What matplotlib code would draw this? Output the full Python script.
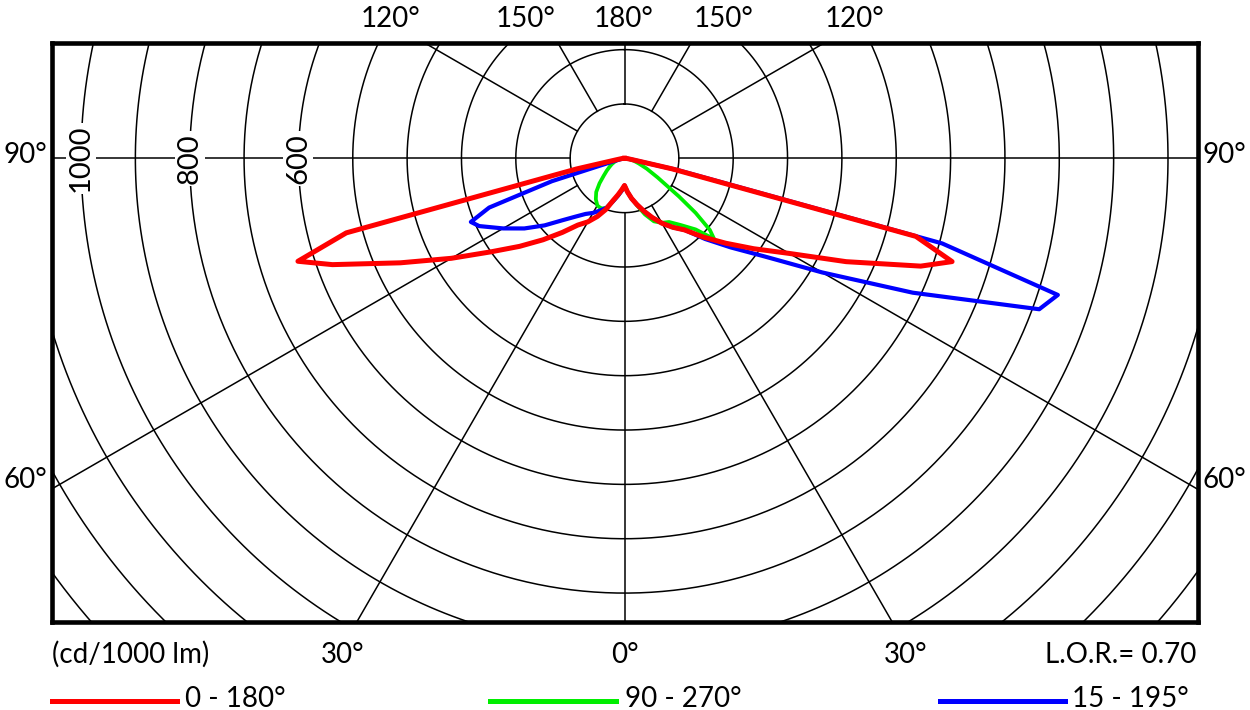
import numpy as np
import matplotlib.pyplot as plt
from matplotlib.lines import Line2D

plt.rcParams['font.family'] = ['Lato', 'DejaVu Sans']

# luminous intensity (cd/1000 lm), angle measured from nadir
# right half = positive angles, left half = negative angles
red_ang = [0, 5, 10, 15, 20, 25, 30, 35, 40, 45, 50, 55, 60, 65, 70, 72.5, 75, 77.5, 80, 85, 90]
red_right = [50, 62, 75, 88, 103, 120, 138, 155, 172, 205, 243, 290, 350, 450, 580, 632, 555, 90, 15, 5, 0]
red_left = [50, 58, 68, 80, 100, 118, 135, 150, 178, 212, 252, 300, 368, 455, 572, 630, 530, 90, 15, 5, 0]

green_ang_r = [0, 5, 10, 15, 20, 25, 30, 35, 40, 45, 48, 50, 52.5, 55, 60, 65, 70, 75, 80, 90]
green_right = [52, 62, 75, 90, 110, 128, 137, 143, 160, 185, 222, 205, 165, 122, 70, 45, 28, 18, 10, 0]
green_ang_l = [0, 5, 10, 15, 20, 25, 30, 35, 40, 45, 50, 55, 60, 65, 70, 75, 80, 90]
green_left = [52, 60, 70, 82, 97, 102, 100, 92, 81, 65, 50, 40, 32, 26, 20, 15, 10, 0]

blue_ang_r = [0, 5, 10, 15, 20, 25, 30, 35, 40, 45, 50, 55, 60, 65, 70, 72.5, 75, 77.5, 80, 85, 90]
blue_right = [50, 62, 75, 88, 103, 120, 138, 155, 172, 210, 255, 315, 420, 585, 812, 836, 605, 100, 15, 5, 0]
blue_ang_l = [0, 5, 10, 15, 20, 25, 30, 35, 40, 45, 50, 55, 60, 65, 67.5, 70, 72.5, 75, 80, 90]
blue_left = [50, 60, 70, 82, 97, 106, 116, 125, 140, 161, 192, 225, 258, 295, 306, 265, 140, 20, 3, 0]

rings = list(range(100, 1600, 100))
spokes = list(range(-150, 181, 30))
ring_labels = [600, 800, 1000]


def curve(ang_l, val_l, ang_r, val_r):
    a = np.radians(np.concatenate([-np.array(ang_l[::-1]), np.array(ang_r)]))
    v = np.concatenate([np.array(val_l[::-1]), np.array(val_r)])
    return v * np.sin(a), -v * np.cos(a)


W, H = 1250, 710
fig = plt.figure(figsize=(12.5, 7.1), dpi=100)
ax = fig.add_axes([51.5 / W, 1 - 622 / H, (1198 - 51.5) / W, (622 - 42.5) / H])
ax.set_xlim(-1054.3, 1055.2)
ax.set_ylim(-853.2, 213.1)

# polar grid
t = np.linspace(0, 2 * np.pi, 721)
for r in rings:
    ax.plot(r * np.sin(t), r * np.cos(t), color='black', lw=1.1, zorder=1)
for a in spokes:
    s, c = np.sin(np.radians(a)), np.cos(np.radians(a))
    ax.plot([100 * s, 2000 * s], [-100 * c, -2000 * c], color='black', lw=1.1, zorder=1)

for v in ring_labels:
    ax.text(-v, 0, str(v), rotation=90, ha='center', va='center', fontsize=21,
            bbox=dict(facecolor='white', edgecolor='none', pad=1.5), zorder=3)

gx, gy = curve(green_ang_l, green_left, green_ang_r, green_right)
bx, by = curve(blue_ang_l, blue_left, blue_ang_r, blue_right)
rx, ry = curve(red_ang, red_left, red_ang, red_right)
ax.plot(gx, gy, color='#00ee00', lw=2.7, zorder=4, solid_joinstyle='round')
ax.plot(bx, by, color='#0000ff', lw=3.0, zorder=5, solid_joinstyle='round')
ax.plot(rx, ry, color='#ff0000', lw=3.6, zorder=6, solid_joinstyle='round')

ax.set_xticks([])
ax.set_yticks([])
for sp in ax.spines.values():
    sp.set_linewidth(3.3)


def ftext(x, y, s, **kw):
    fig.text(x / W, 1 - y / H, s, fontsize=20, va='baseline', **kw)


for x, s in [(391, '120°'), (526, '150°'), (624, '180°'), (724, '150°'), (855, '120°')]:
    ftext(x, 27, s, ha='center')
ftext(47, 163, '90°', ha='right')
ftext(1203, 163, '90°', ha='left')
ftext(47, 488, '60°', ha='right')
ftext(1203, 488, '60°', ha='left')

ftext(52, 663, '(cd/1000 lm)', ha='left')
ftext(343, 663, '30°', ha='center')
ftext(625, 663, '0°', ha='center')
ftext(906, 663, '30°', ha='center')
ftext(1196, 663, 'L.O.R.= 0.70', ha='right')

for x0, x1, col, tx, lab in [(52, 177, '#ff0000', 185, '0 - 180°'),
                             (490, 616, '#00ee00', 625, '90 - 270°'),
                             (940, 1065, '#0000ff', 1072, '15 - 195°')]:
    fig.add_artist(Line2D([x0 / W, x1 / W], [1 - 701 / H, 1 - 701 / H], color=col, lw=3.6,
                          transform=fig.transFigure))
    ftext(tx, 707, lab, ha='left')

fig.savefig('out.png', dpi=100)
